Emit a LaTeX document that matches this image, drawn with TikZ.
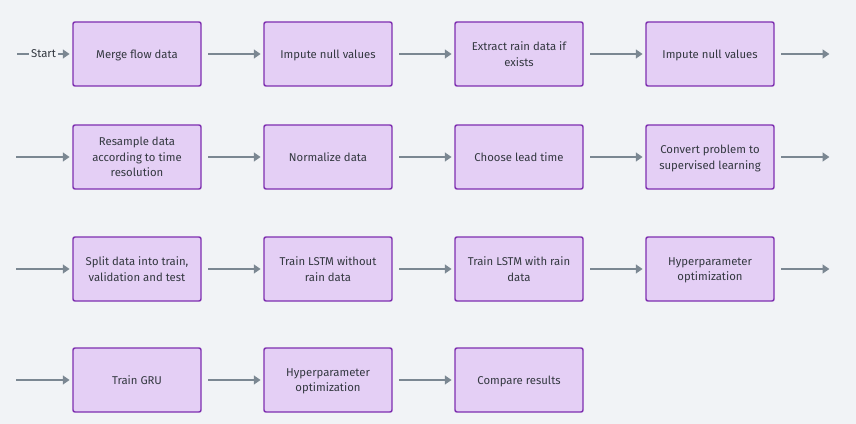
\documentclass[tikz,border=0pt]{standalone}
\usepackage{fontspec}
\setmainfont{Fira Sans}
\usetikzlibrary{arrows.meta}
\definecolor{bg}{HTML}{F1F3F6}
\definecolor{boxfill}{HTML}{E4CFF5}
\definecolor{boxdraw}{HTML}{7E2FB0}
\definecolor{arrowc}{HTML}{7B8792}
\definecolor{txt}{HTML}{333840}
\tikzset{
  stepbox/.style={draw=boxdraw, fill=boxfill, line width=1.1pt, rounded corners=1.5pt,
    minimum width=96pt, minimum height=48pt, inner sep=0pt, align=center,
    font=\fontsize{8.5}{11.8}\selectfont, text=txt, text depth=0pt},
  flow/.style={draw=arrowc, line width=1.9pt, -{Triangle[length=5pt,width=6.5pt]}},
  plain/.style={draw=arrowc, line width=1.9pt},
}
\begin{document}
\begin{tikzpicture}[x=0.75pt,y=-0.75pt]
\fill[bg] (0,0) rectangle (856,424);
\useasboundingbox (0,0) rectangle (856,424);
% row 1
\node[stepbox] (a1) at (137,54) {Merge flow data};
\node[stepbox] (a2) at (328,54) {Impute null values};
\node[stepbox] (a3) at (519,54) {Extract rain data if\\exists};
\node[stepbox] (a4) at (710,54) {Impute null values};
% row 2
\node[stepbox] (b1) at (137,157) {Resample data\\according to time\\resolution};
\node[stepbox] (b2) at (328,157) {Normalize data};
\node[stepbox] (b3) at (519,157) {Choose lead time};
\node[stepbox] (b4) at (710,157) {Convert problem to\\supervised learning};
% row 3
\node[stepbox] (c1) at (137,269) {Split data into train,\\validation and test};
\node[stepbox] (c2) at (328,269) {Train LSTM without\\rain data};
\node[stepbox] (c3) at (519,269) {Train LSTM with rain\\data};
\node[stepbox] (c4) at (710,269) {Hyperparameter\\optimization};
% row 4
\node[stepbox] (d1) at (137,380) {Train GRU};
\node[stepbox] (d2) at (328,380) {Hyperparameter\\optimization};
\node[stepbox] (d3) at (519,380) {Compare results};
% start
\node[font=\fontsize{8.5}{10}\selectfont, text=txt, inner sep=0pt, text depth=0pt] (start) at (43.5,54) {Start};
\coordinate (s0) at (17,54);
\draw[plain] (s0) -- ([xshift=-1.5pt]start.west);
\draw[flow] ([xshift=1.5pt]start.east) -- ([xshift=-2pt]a1.west);
% row links
\foreach \i/\j in {a1/a2,a2/a3,a3/a4,b1/b2,b2/b3,b3/b4,c1/c2,c2/c3,c3/c4,d1/d2,d2/d3}{
  \draw[flow] ([xshift=5pt]\i.east) -- ([xshift=-2pt]\j.west);
}
% ends and starts of rows
\foreach \r/\n in {a/b,b/c,c/d}{
  \coordinate (\r out) at ([xshift=41pt]\r4.east);
  \draw[flow] ([xshift=5pt]\r4.east) -- (\r out);
  \coordinate (\n in) at ([xshift=-42pt]\n1.west);
  \draw[flow] (\n in) -- ([xshift=-2pt]\n1.west);
}
\end{tikzpicture}
\end{document}
